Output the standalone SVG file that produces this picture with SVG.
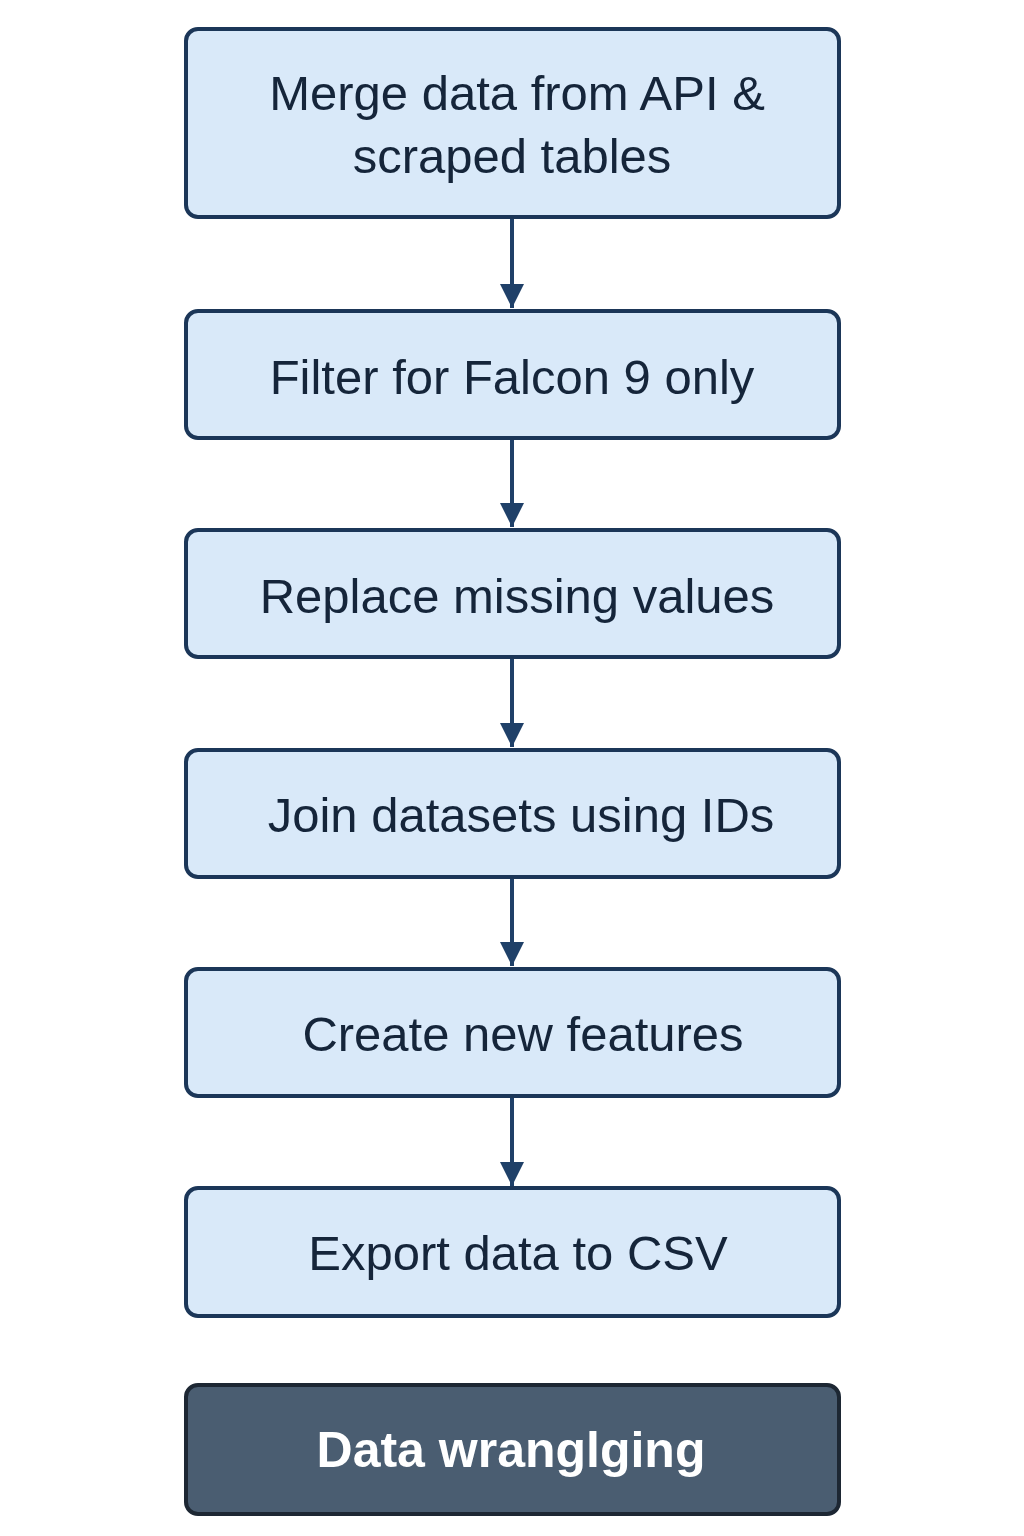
<svg xmlns="http://www.w3.org/2000/svg" width="1024" height="1536" viewBox="0 0 1024 1536">
<defs>
<style>
.box{fill:#d9e9f9;stroke:#1b3658;stroke-width:4}
.dark{fill:#4a5d71;stroke:#1d2733;stroke-width:4}
.t{font-family:"Liberation Sans",Arial,sans-serif;font-size:49px;fill:#15253a;text-anchor:middle}
.tb{font-family:"Liberation Sans",Arial,sans-serif;font-size:50px;font-weight:bold;fill:#ffffff;text-anchor:middle}
.c{stroke:#1f4068;stroke-width:4;fill:none}
</style>
<marker id="ah" viewBox="0 0 10 10" refX="10" refY="5" markerWidth="6" markerHeight="7" markerUnits="strokeWidth" orient="auto">
<path d="M0,0 L10,5 L0,10 Z" fill="#1f4068"/>
</marker>
</defs>
<rect width="1024" height="1536" fill="#ffffff"/>
<g id="connectors">
<line class="c" x1="512" y1="217" x2="512" y2="308" marker-end="url(#ah)"/>
<line class="c" x1="512" y1="438" x2="512" y2="527" marker-end="url(#ah)"/>
<line class="c" x1="512" y1="657" x2="512" y2="747" marker-end="url(#ah)"/>
<line class="c" x1="512" y1="877" x2="512" y2="966" marker-end="url(#ah)"/>
<line class="c" x1="512" y1="1096" x2="512" y2="1186" marker-end="url(#ah)"/>
</g>
<g id="n1"><rect class="box" x="186" y="29" width="653" height="188" rx="12"/>
<text class="t" x="517" y="110">Merge data from API &amp;</text>
<text class="t" x="512" y="173">scraped tables</text></g>
<g id="n2"><rect class="box" x="186" y="311" width="653" height="127" rx="12"/>
<text class="t" x="512" y="394">Filter for Falcon 9 only</text></g>
<g id="n3"><rect class="box" x="186" y="530" width="653" height="127" rx="12"/>
<text class="t" x="517" y="613">Replace missing values</text></g>
<g id="n4"><rect class="box" x="186" y="750" width="653" height="127" rx="12"/>
<text class="t" x="521" y="832">Join datasets using IDs</text></g>
<g id="n5"><rect class="box" x="186" y="969" width="653" height="127" rx="12"/>
<text class="t" x="523" y="1051">Create new features</text></g>
<g id="n6"><rect class="box" x="186" y="1188" width="653" height="128" rx="12"/>
<text class="t" x="518" y="1270">Export data to CSV</text></g>
<g id="n7"><rect class="dark" x="186" y="1385" width="653" height="129" rx="12"/>
<text class="tb" x="511" y="1467">Data wranglging</text></g>
</svg>
